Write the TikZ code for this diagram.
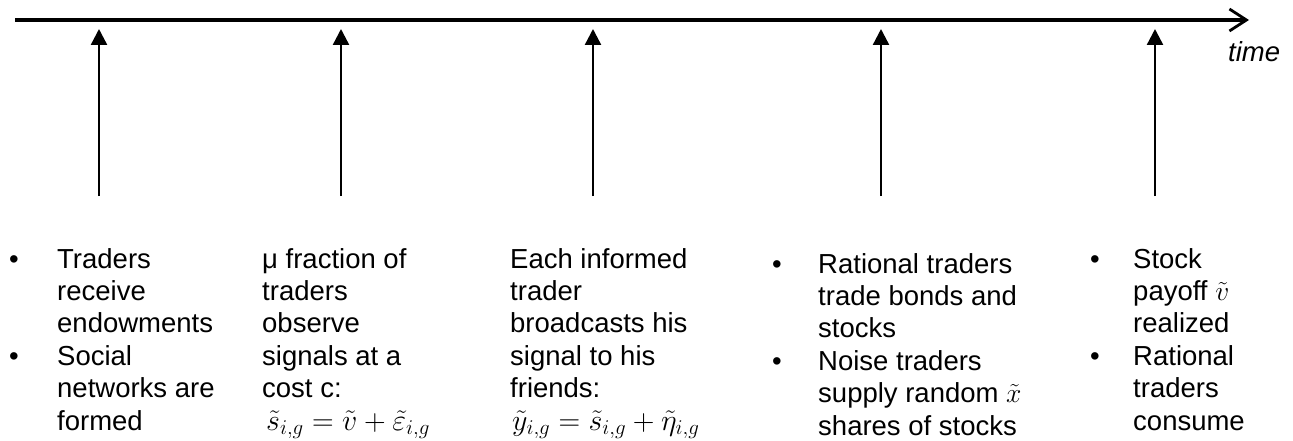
\documentclass[tikz,border=0pt]{standalone}
\usepackage{fix-cm}
\usepackage{fontspec}
\setmainfont{Liberation Sans}
\usetikzlibrary{arrows.meta}
\begin{document}
\begin{tikzpicture}[x=1pt,y=1pt,
  txt/.style={anchor=base west,inner sep=0pt,font=\fontsize{27.5}{32.4}\selectfont},
  eq/.style={anchor=base west,inner sep=0pt,font=\fontsize{30}{32.4}\selectfont},
  bul/.style={anchor=base,inner sep=0pt,font=\fontsize{27.5}{32.4}\selectfont},
  timeline/.style={line width=3.5pt,-{Straight Barb[length=17pt,width=22pt,line width=2.8pt]}},
  varrow/.style={line width=2.4pt,-{Triangle[length=16pt,width=16pt]}}]
\useasboundingbox (0,0) rectangle (1293,-441);
% timeline
\coordinate (ts) at (15,-20);
\coordinate (te) at (1249,-20);
\draw[timeline] (ts) -- (te);
\node[txt,font=\fontsize{27.5}{32.4}\selectfont\itshape] (time) at (1228,-62) {time};
% vertical arrows
\foreach \x [count=\i] in {99,341,593,881,1155}{
  \coordinate (b\i) at (\x,-196);
  \coordinate (t\i) at (\x,-29);
  \draw[varrow] (b\i) -- (t\i);
}
% column 1
\foreach \t [count=\i] in {Traders,receive,endowments,Social,networks are,formed}
  \node[txt] (a\i) at (57,{-268-32.4*(\i-1)}) {\t};
\node[bul] (ab1) at (14,-268) {•};
\node[bul] (ab2) at (14,{-268-32.4*3}) {•};
% column 2
\foreach \t [count=\i] in {μ fraction of,traders,observe,signals at a,cost c:}
  \node[txt] (b\i) at (262,{-268-32.4*(\i-1)}) {\t};
\node[eq] (beq) at (266,-430) {$\tilde{s}_{i,g}=\tilde{v}+\tilde{\varepsilon}_{i,g}$};
% column 3
\foreach \t [count=\i] in {Each informed,trader,broadcasts his,signal to his,friends:}
  \node[txt] (c\i) at (510,{-268-32.4*(\i-1)}) {\t};
\node[eq] (ceq) at (512,-430) {$\tilde{y}_{i,g}=\tilde{s}_{i,g}+\tilde{\eta}_{i,g}$};
% column 4
\foreach \t [count=\i] in {Rational traders,trade bonds and,stocks,Noise traders}
  \node[txt] (d\i) at (818,{-273-32.4*(\i-1)}) {\t};
\node[txt] (d5) at (818,{-273-32.4*4}) {supply random $\tilde{x}$};
\node[txt] (d6) at (818,{-273-32.4*5}) {shares of stocks};
\node[bul] (db1) at (777,-273) {•};
\node[bul] (db2) at (777,{-273-32.4*3}) {•};
% column 5
\node[txt] (e1) at (1133,-268) {Stock};
\node[txt] (e2) at (1133,{-268-32.4}) {payoff $\tilde{v}$};
\foreach \t [count=\i from 3] in {realized,Rational,traders,consume}
  \node[txt] (e\i) at (1133,{-268-32.4*(\i-1)}) {\t};
\node[bul] (eb1) at (1095,-268) {•};
\node[bul] (eb2) at (1095,{-268-32.4*3}) {•};
\end{tikzpicture}
\end{document}
